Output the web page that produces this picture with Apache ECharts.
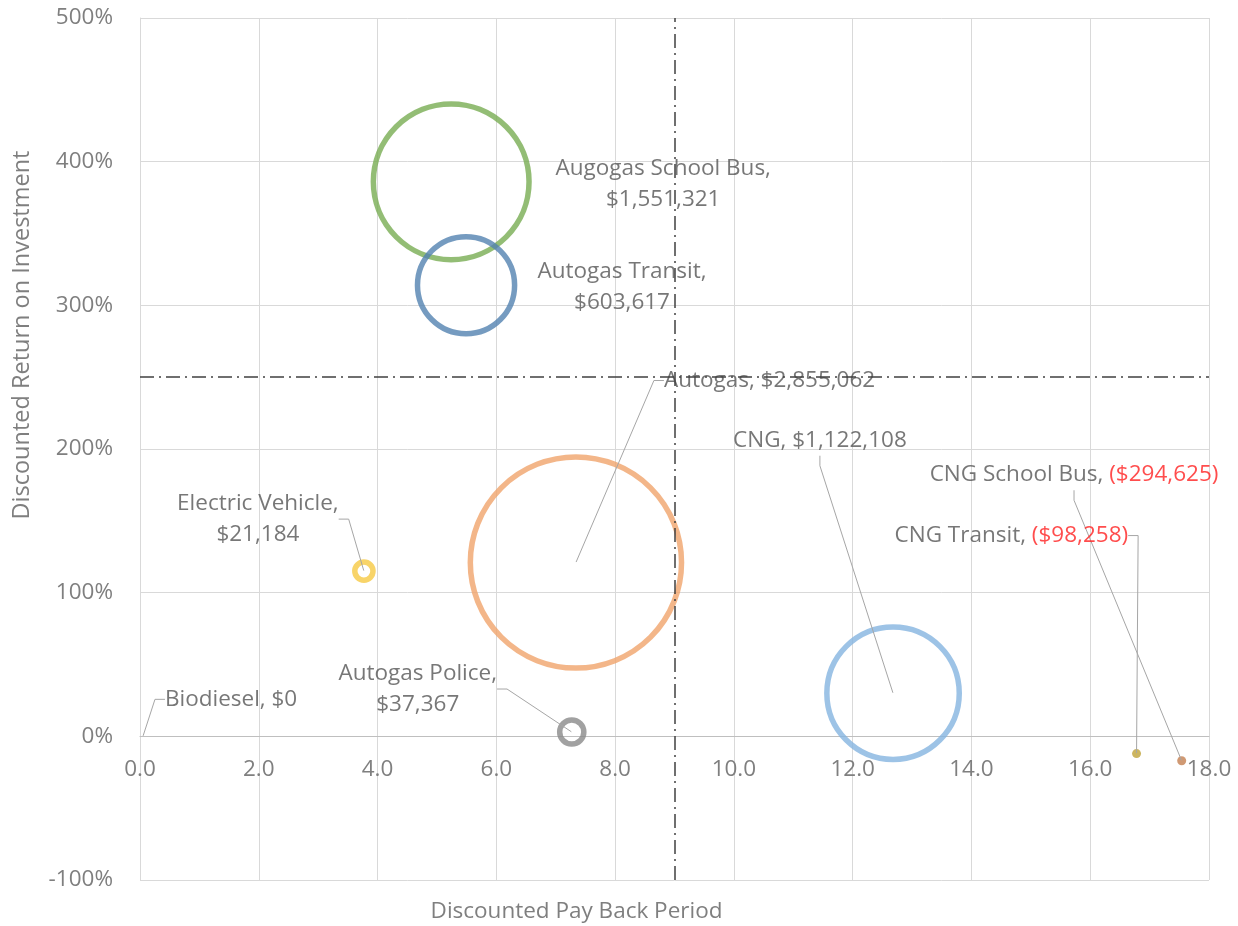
<!DOCTYPE html>
<html>
<head>
<meta charset="utf-8">
<script src="https://cdn.jsdelivr.net/npm/echarts@6/dist/echarts.min.js"></script>
<style>html,body{margin:0;padding:0;background:#fff}#c{width:1238px;height:926px}</style>
</head>
<body>
<div id="c"></div>
<script>
// ---- data ----
var names = ["Biodiesel","Electric Vehicle","Autogas Police","Autogas","Augogas School Bus","Autogas Transit","CNG","CNG Transit","CNG School Bus"];
var payback = [0.05, 3.77, 7.27, 7.34, 5.24, 5.49, 12.68, 16.78, 17.54];
var roi = [0, 115, 3, 121, 386, 314, 30, -12, -17];
var npv = [0, 21184, 37367, 2855062, 1551321, 603617, 1122108, -98258, -294625];
var npvText = ["$0","$21,184","$37,367","$2,855,062","$1,551,321","$603,617","$1,122,108","($98,258)","($294,625)"];
var xTicks = [0, 2, 4, 6, 8, 10, 12, 14, 16, 18];
var yTicks = [-100, 0, 100, 200, 300, 400, 500];
var refX = 9, refY = 250;

// ---- styles / layout (not data) ----
var colors = ["#A5A5A5","#F6C944","#8A8A8A","#F0A46C","#78AD52","#5282B0","#85B4E0","#BFA33A","#C47F50"];
// label placement relative to point centre: [dx, dy, align, twoLines, showLine]
var labelPlace = [
  [22, -37, 'left', false, true],
  [-106, -52, 'center', true, true],
  [-154, -43, 'center', true, true],
  [88, -182, 'left', false, true],
  [212, 2, 'center', true, false],
  [156, 2, 'center', true, false],
  [-160, -253, 'left', false, true],
  [-242, -218, 'left', false, true],
  [-252, -286, 'left', false, true]
];
var drawOrder = [3, 4, 5, 6, 2, 1, 7, 8, 0];
var W = 1238, H = 926;
var G = {left: 140, right: 29, top: 18, bottom: 46};
var gridH = H - G.top - G.bottom;
var yMin = yTicks[0], yMax = yTicks[yTicks.length - 1];
var zeroOffset = -gridH * (0 - yMin) / (yMax - yMin);

var chart = echarts.init(document.getElementById('c'), null, {renderer: 'canvas', width: W, height: H});
var FONT = '"Open Sans", "Noto Sans", sans-serif';

var bubbleData = drawOrder.map(function (i) {
  var v = npv[i];
  var size = v > 0 ? 0.125 * Math.sqrt(v) : (v < 0 ? 9 : 0);
  return {
    name: names[i],
    value: [payback[i], roi[i], v],
    symbolSize: size,
    itemStyle: v > 0
      ? {color: 'rgba(0,0,0,0)', borderColor: colors[i], borderWidth: 5.5}
      : {color: colors[i], borderWidth: 0}
  };
});

var labelData = names.map(function (n, i) {
  var p = labelPlace[i];
  var neg = npv[i] < 0;
  var txt;
  if (neg) {
    txt = '{a|' + n + ', }{r|' + npvText[i] + '}';
  } else if (p[3]) {
    txt = '{a|' + n + ',}\n{a|' + npvText[i] + '}';
  } else {
    txt = '{a|' + n + ', ' + npvText[i] + '}';
  }
  return {
    name: n,
    value: [payback[i], roi[i]],
    label: {formatter: txt, align: p[2]},
    labelLine: {show: p[4]}
  };
});

chart.setOption({
  animation: false,
  backgroundColor: '#ffffff',
  grid: {left: G.left, right: G.right, top: G.top, bottom: G.bottom, containLabel: false, outerBoundsMode: 'none'},
  xAxis: [{
    type: 'value', min: xTicks[0], max: xTicks[xTicks.length - 1], interval: xTicks[1] - xTicks[0],
    position: 'bottom', offset: zeroOffset,
    axisLine: {show: true, onZero: false, lineStyle: {color: '#BFBFBF', width: 1}},
    axisTick: {show: false},
    axisLabel: {color: '#7F7F7F', fontSize: 22.5, fontFamily: FONT, margin: 22,
      formatter: function (v) { return v.toFixed(1); }},
    splitLine: {show: true, lineStyle: {color: '#D9D9D9', width: 1}}
  }, {
    type: 'value', min: xTicks[0], max: xTicks[xTicks.length - 1],
    position: 'bottom',
    name: 'Discounted Pay Back Period', nameLocation: 'middle', nameGap: 20,
    nameTextStyle: {color: '#7F7F7F', fontSize: 22.5, fontFamily: FONT, padding: [0, 196, 0, 0]},
    axisLine: {show: false, onZero: false}, axisTick: {show: false}, axisLabel: {show: false},
    splitLine: {show: false}
  }],
  yAxis: {
    type: 'value', min: yMin, max: yMax, interval: yTicks[1] - yTicks[0],
    name: 'Discounted Return on Investment', nameLocation: 'middle', nameGap: 106, nameRotate: 90,
    nameTextStyle: {color: '#7F7F7F', fontSize: 23.5, fontFamily: FONT, padding: [0, 0, 0, 228]},
    axisLine: {show: true, onZero: false, lineStyle: {color: '#D9D9D9'}},
    axisTick: {show: false},
    axisLabel: {color: '#7F7F7F', fontSize: 22.5, fontFamily: FONT, margin: 27, formatter: '{value}%'},
    splitLine: {show: true, lineStyle: {color: '#D9D9D9', width: 1}}
  },
  series: [
    {
      type: 'scatter',
      name: 'bubbles',
      data: bubbleData,
      z: 3,
      silent: true,
      markLine: {
        silent: true,
        symbol: ['none', 'none'],
        label: {show: false},
        lineStyle: {color: '#404040', width: 1.5, type: [14, 5, 2, 5]},
        data: [{xAxis: refX}, {yAxis: refY}]
      }
    },
    {
      type: 'scatter',
      name: 'labels',
      data: labelData,
      symbolSize: 1,
      itemStyle: {color: 'rgba(0,0,0,0)'},
      z: 4,
      silent: true,
      label: {
        show: true,
        position: 'inside',
        lineHeight: 31,
        rich: {
          a: {color: '#555555', fontSize: 22.5, fontFamily: FONT, lineHeight: 31},
          r: {color: '#FF2020', fontSize: 22.5, fontFamily: FONT, lineHeight: 31}
        }
      },
      labelLine: {show: true, length2: 10, smooth: false, lineStyle: {color: '#A6A6A6', width: 1}},
      labelLayout: function (params) {
        var i = params.dataIndex;
        var p = labelPlace[i];
        var cx = params.rect.x + params.rect.width / 2;
        var cy = params.rect.y + params.rect.height / 2;
        return {x: cx + p[0], y: cy + p[1], align: p[2], verticalAlign: 'middle'};
      }
    }
  ]
});
</script>
</body>
</html>
